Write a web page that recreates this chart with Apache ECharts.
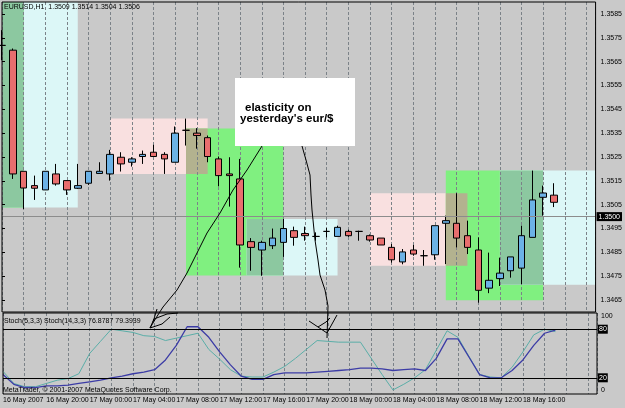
<!DOCTYPE html>
<html>
<head>
<meta charset="utf-8">
<title>EURUSD,H1</title>
<script src="https://cdn.jsdelivr.net/npm/echarts@6/dist/echarts.min.js"></script>
<style>
  html, body { margin: 0; padding: 0; background: #c9c9c9; }
  #chart { width: 625px; height: 408px; }
</style>
</head>
<body>
<div id="chart"></div>
<script>
// hourly bars, first one is 16 May 2007 16:00 (index = hours from it)
var opens  = [1.35718, 1.35698, 1.35190, 1.35130, 1.35112, 1.35179, 1.35151, 1.35119, 1.35140, 1.35181,
              1.35179, 1.35249, 1.35228, 1.35252, 1.35270, 1.35261, 1.35228, 1.35362, 1.35350, 1.35331,
              1.35242, 1.35179, 1.35158, 1.34895, 1.34860, 1.34878, 1.34892, 1.34941, 1.34929, 1.34917,
              1.34938, 1.34917, 1.34938, 1.34938, 1.34920, 1.34910, 1.34871, 1.34810, 1.34860, 1.34836,
              1.34840, 1.34972, 1.34972, 1.34920, 1.34860, 1.34700, 1.34740, 1.34773, 1.34784, 1.34913,
              1.35081, 1.3509];
var closes = [1.35718, 1.35179, 1.35120, 1.35119, 1.35190, 1.35137, 1.35112, 1.35130, 1.35190, 1.35190,
              1.35261, 1.35221, 1.35242, 1.35261, 1.35252, 1.35242, 1.35350, 1.35362, 1.35340, 1.35252,
              1.35172, 1.35172, 1.34881, 1.34871, 1.34892, 1.34910, 1.34950, 1.34913, 1.34920, 1.34917,
              1.34938, 1.34955, 1.34920, 1.34938, 1.34902, 1.34881, 1.34819, 1.34852, 1.34843, 1.34836,
              1.34962, 1.34983, 1.34910, 1.34871, 1.34691, 1.34733, 1.34763, 1.34831, 1.34920, 1.35070,
              1.35099, 1.3506];
var lows   = [1.35656, 1.35158, 1.35032, 1.35070, 1.35112, 1.35130, 1.35091, 1.35116, 1.35133, 1.35181,
              1.35151, 1.35189, 1.35210, 1.35221, 1.35252, 1.35179, 1.35228, 1.35298, 1.35285, 1.35228,
              1.35127, 1.35042, 1.34786, 1.34773, 1.34752, 1.34864, 1.34831, 1.34878, 1.34899, 1.34899,
              1.34913, 1.34917, 1.34915, 1.34899, 1.34895, 1.34881, 1.34807, 1.34800, 1.34836, 1.34794,
              1.34819, 1.34801, 1.34871, 1.34843, 1.34639, 1.34679, 1.34709, 1.34744, 1.34717, 1.34913,
              1.35004, 1.3504];
var highs  = [1.35782, 1.35705, 1.35190, 1.35172, 1.35190, 1.35221, 1.35151, 1.35221, 1.35190, 1.35228,
              1.35280, 1.35270, 1.35249, 1.35277, 1.35301, 1.35270, 1.35378, 1.35411, 1.35371, 1.35340,
              1.35252, 1.35249, 1.35242, 1.34910, 1.34899, 1.34950, 1.34990, 1.34958, 1.34958, 1.34934,
              1.34952, 1.34962, 1.34945, 1.34941, 1.34925, 1.34910, 1.34885, 1.34864, 1.34881, 1.34860,
              1.34962, 1.35004, 1.35098, 1.34983, 1.34913, 1.34849, 1.34828, 1.34831, 1.34962, 1.35193,
              1.35130, 1.3514];

var stochFast = [28, 13, 9, 9, 13, 17, 19, 25, 50, 65, 80, 78, 76, 72, 71, 66, 69, 72, 75, 55,
                 43, 30, 22, 21, 21, 27, 34, 44, 55, 66, 65, 64, 64, 64, 44, 24, 5, 12, 20, 30,
                 54, 78, 70, 47, 24, 21, 20, 33, 52, 73, 80, 77];
var stochSlow = [24, 12, 8, 8, 10, 10, 11, 13, 15, 17, 20, 22, 25, 27, 30, 42, 60, 83, 83, 70,
                 52, 36, 22, 18, 18, 24, 26, 26, 26, 27, 28, 29, 30, 32, 32, 31, 29, 30, 31, 29,
                 44, 68, 68, 46, 24, 20, 20, 29, 42, 60, 75, 79];
var stochLevels = [80, 20];

var priceTicks = [1.3465, 1.3475, 1.3485, 1.3495, 1.3505, 1.3515, 1.3525, 1.3535, 1.3545,
                  1.3555, 1.3565, 1.3575, 1.3585];
var labelBars = [0, 4, 8, 12, 16, 20, 24, 28, 32, 36, 40, 44, 48];
var hourLabels = ['16 May 2007', '16 May 20:00', '17 May 00:00', '17 May 04:00', '17 May 08:00',
                  '17 May 12:00', '17 May 16:00', '17 May 20:00', '18 May 00:00', '18 May 04:00',
                  '18 May 08:00', '18 May 12:00', '18 May 16:00'];

// rectangles drawn on the chart: [fromBar, toBar, lowPrice, highPrice, kind]
var zones = [
  [-1, 7, 1.35038, 1.3600, 'cyan'],
  [-1, 2, 1.35038, 1.3600, 'green'],
  [10, 19, 1.35179, 1.35411, 'pink'],
  [17, 26, 1.34753, 1.35369, 'green'],
  [22.6, 31, 1.34753, 1.34990, 'cyan'],
  [34, 43, 1.34794, 1.35098, 'pink'],
  [41, 50, 1.34649, 1.35193, 'green'],
  [46, 56, 1.34714, 1.35193, 'cyan']
];

var font = 'Liberation Sans';
var zoneColors = {
  cyan: '#dcf7f7', green: '#80f080', pink: '#f9e0e0',
  'cyan+green': '#8cc8a0', 'green+pink': '#b3b28f'
};

var bars = opens.map(function (o, i) { return [i, o, closes[i], lows[i], highs[i]]; });
var fast = stochFast.map(function (v, i) { return [i, v]; });
var slow = stochSlow.map(function (v, i) { return [i, v]; });

// where two rectangles overlap the terminal shows a mixed colour
var zoneItems = zones.map(function (z) {
  return { value: z.slice(0, 4), itemStyle: { color: zoneColors[z[4]] } };
});
for (var a = 0; a < zones.length; a++) {
  for (var b = a + 1; b < zones.length; b++) {
    var A = zones[a], B = zones[b];
    if (A[4] === B[4]) continue;
    var x0 = Math.max(A[0], B[0]), x1 = Math.min(A[1], B[1]);
    var lo = Math.max(A[2], B[2]), hi = Math.min(A[3], B[3]);
    if (x0 < x1 && lo < hi) {
      zoneItems.push({ value: [x0, x1, lo, hi], itemStyle: { color: zoneColors[[A[4], B[4]].sort().join('+')] } });
    }
  }
}

function timeAxis(gridIndex, withLabels) {
  return {
    type: 'value', gridIndex: gridIndex, min: 0, max: 54.84, interval: 2, z: 2,
    axisLine: { show: false }, axisTick: { show: false },
    splitLine: { show: true, lineStyle: { color: '#7b8288', type: [3, 2], width: 1 } },
    axisLabel: withLabels ? {
      show: true, color: '#000', fontSize: 7, fontFamily: font, align: 'left', margin: 3,
      showMaxLabel: false,
      formatter: function (v) {
        var k = labelBars.indexOf(v);
        return k < 0 ? '' : hourLabels[k];
      }
    } : { show: false }
  };
}

function sketch(points) {
  return { type: 'polyline', z: 20, silent: true, shape: { points: points },
           style: { stroke: '#000', lineWidth: 1, fill: null } };
}
function label(x, y, text, extra) {
  var st = { text: text, fill: '#000', fontSize: 7, fontFamily: font, verticalAlign: 'middle' };
  for (var k in extra) st[k] = extra[k];
  return { type: 'text', x: x, y: y, z: 21, silent: true, style: st };
}

var chart = echarts.init(document.getElementById('chart'));
chart.setOption({
  animation: false,
  backgroundColor: '#c9c9c9',
  grid: [
    { left: 2, right: 28, top: 2, height: 310, show: true, z: 5,
      backgroundColor: 'transparent', borderColor: '#000', borderWidth: 1 },
    { left: 2, right: 28, top: 313, height: 81, show: true, z: 5,
      backgroundColor: 'transparent', borderColor: '#000', borderWidth: 1 }
  ],
  xAxis: [timeAxis(0, false), timeAxis(1, true)],
  yAxis: [
    { type: 'value', gridIndex: 0, position: 'right', min: 1.3460, max: 1.3590, z: 2,
      axisLine: { show: false }, splitLine: { show: false },
      axisTick: { show: true, customValues: priceTicks, length: 3, lineStyle: { color: '#000' } },
      axisLabel: { customValues: priceTicks, color: '#000', fontSize: 7, fontFamily: font, margin: 5,
                   formatter: function (v) { return v.toFixed(4); } } },
    { type: 'value', gridIndex: 1, position: 'right', min: 0, max: 100, z: 2,
      axisLine: { show: false }, splitLine: { show: false }, axisTick: { show: false },
      axisLabel: { customValues: [0, 100], color: '#000', fontSize: 7, fontFamily: font, margin: 4,
                   verticalAlignMinLabel: 'bottom', verticalAlignMaxLabel: 'top' } }
  ],
  series: [
    {
      type: 'custom', name: 'zones', xAxisIndex: 0, yAxisIndex: 0, z: 1, silent: true,
      encode: { x: [0, 1], y: [2, 3] },
      data: zoneItems,
      renderItem: function (params, api) {
        var p0 = api.coord([api.value(0), api.value(3)]);
        var p1 = api.coord([api.value(1), api.value(2)]);
        var cs = params.coordSys;
        var shape = echarts.graphic.clipRectByRect(
          { x: p0[0], y: p0[1], width: p1[0] - p0[0], height: p1[1] - p0[1] },
          { x: cs.x, y: cs.y, width: cs.width, height: cs.height });
        return shape && { type: 'rect', shape: shape, style: { fill: api.visual('color') } };
      },
      markLine: {
        z: 2, silent: true, symbol: ['none', 'none'], label: { show: false },
        lineStyle: { color: '#7b8288', type: [3, 2], width: 1 },
        data: priceTicks.map(function (v) { return { yAxis: v }; })
      }
    },
    {
      type: 'candlestick', name: 'EURUSD', xAxisIndex: 0, yAxisIndex: 0, z: 3,
      data: bars, encode: { x: 0, y: [1, 2, 3, 4] }, barWidth: 7,
      itemStyle: { color: '#6cb2e6', color0: '#e86e6e', borderColor: '#000', borderColor0: '#000',
                   borderColorDoji: '#000', borderWidth: 1 },
      markLine: {
        z: 4, silent: true, symbol: ['none', 'none'],
        lineStyle: { color: '#8c8c8c', type: 'solid', width: 1 },
        label: { show: true, position: 'end', distance: 1, color: '#fff', backgroundColor: '#000',
                 fontSize: 7, fontFamily: font, padding: [1, 2],
                 formatter: function (p) { return p.value.toFixed(4); } },
        data: [{ yAxis: closes[closes.length - 1] }]
      }
    },
    {
      type: 'line', name: 'Stoch(5,3,3)', xAxisIndex: 1, yAxisIndex: 1, z: 3,
      data: fast, symbol: 'none', lineStyle: { color: '#5aaea8', width: 1 },
      markLine: {
        z: 4, silent: true, symbol: ['none', 'none'],
        lineStyle: { color: '#000', type: 'solid', width: 1 },
        label: { show: true, position: 'end', distance: 1, color: '#fff', backgroundColor: '#000',
                 fontSize: 7, fontFamily: font, padding: [1, 1] },
        data: stochLevels.map(function (v) { return { yAxis: v }; })
      }
    },
    {
      type: 'line', name: 'Stoch(14,3,3)', xAxisIndex: 1, yAxisIndex: 1, z: 3,
      data: slow, symbol: 'none', lineStyle: { color: '#3c3ca6', width: 1.3 }
    }
  ],
  graphic: [
    label(4, 7, 'EURUSD,H1  ' + [opens[51], highs[51], lows[51], closes[51]].map(function (v) { return v.toFixed(4); }).join(' ')),
    label(4, 321, 'Stoch(5,3,3) Stoch(14,3,3) 76.8787 79.3939'),
    label(3, 390, 'MetaTrader, \u00a9 2001-2007 MetaQuotes Software Corp.'),
    { type: 'rect', z: 19, silent: true, shape: { x: 235, y: 78, width: 120, height: 68 }, style: { fill: '#fff' } },
    label(245, 107.5, 'elasticity on', { fontSize: 11.5, fontWeight: 'bold' }),
    label(240, 118.5, "yesterday's eur/$", { fontSize: 11.5, fontWeight: 'bold' }),
    sketch([[262, 146], [247, 170], [233, 190], [220, 213], [207, 233], [197, 253], [187, 273],
            [177, 290], [163, 307], [156, 318], [150, 328]]),
    sketch([[150, 328], [154, 319], [167, 314], [178, 313]]),
    sketch([[150, 328], [162, 324], [170, 317]]),
    sketch([[153, 322], [157, 309]]),
    sketch([[302, 146], [306, 160], [310, 175], [311, 195], [312, 210], [315, 240], [318, 260],
            [320, 275], [325, 290], [328, 306], [327, 338]]),
    sketch([[309, 321], [318, 327], [327, 333], [332, 324], [337, 315]]),
    sketch([[318, 327], [326, 322], [330, 318]])
  ]
});
</script>
</body>
</html>
